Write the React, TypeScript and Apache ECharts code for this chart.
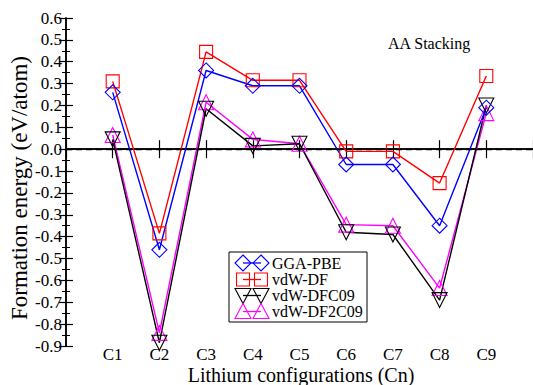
import React, { useEffect, useRef } from "react";
import * as echarts from "echarts";

const categories = ["C1", "C2", "C3", "C4", "C5", "C6", "C7", "C8", "C9"];
const ggaPbe = [0.26, -0.46, 0.36, 0.29, 0.29, -0.07, -0.07, -0.35, 0.19];
const vdwDf = [0.31, -0.385, 0.445, 0.315, 0.315, -0.01, -0.01, -0.155, 0.335];
const vdwDfc09 = [0.045, -0.885, 0.185, 0.015, 0.025, -0.38, -0.39, -0.69, 0.2];
const vdwDf2c09 = [0.065, -0.84, 0.215, 0.045, 0.025, -0.345, -0.35, -0.635, 0.165];
const seriesNames = ["GGA-PBE", "vdW-DF", "vdW-DFC09", "vdW-DF2C09"];
const xTitle = "Lithium configurations (Cn)";
const yTitle = "Formation energy (eV/atom)";
const panelTitle = "AA Stacking";

const FONT = "Liberation Serif";

function legendGraphic() {
  const x0 = 229, y0 = 252, w = 138, h = 70;
  const rows = [263, 279.5, 295.5, 311.5];
  const colors = ["#0000ff", "#ff0000", "#000000", "#ff00ff"];
  const ax = 243, bx = 261;
  const children: any[] = [
    { type: "rect", shape: { x: x0, y: y0, width: w, height: h }, style: { fill: "#fff", stroke: "#000", lineWidth: 1 } },
  ];
  rows.forEach((cy, i) => {
    const c = colors[i];
    children.push({ type: "line", shape: { x1: ax, y1: cy, x2: bx, y2: cy }, style: { stroke: c, lineWidth: 1.3 } });
    [ax, bx].forEach((cx) => {
      let el: any;
      if (i === 0) {
        el = { type: "polygon", shape: { points: [[cx, cy - 8], [cx + 8, cy], [cx, cy + 8], [cx - 8, cy]] } };
      } else if (i === 1) {
        el = { type: "rect", shape: { x: cx - 6.5, y: cy - 6.5, width: 13, height: 13 } };
      } else if (i === 2) {
        el = { type: "polygon", shape: { points: [[cx - 8, cy - 7], [cx + 8, cy - 7], [cx, cy + 8]] } };
      } else {
        el = { type: "polygon", shape: { points: [[cx - 8, cy + 7], [cx + 8, cy + 7], [cx, cy - 8]] } };
      }
      el.style = { fill: "none", stroke: c, lineWidth: 1.1 };
      children.push(el);
    });
    children.push({
      type: "text",
      x: 272,
      y: cy,
      style: { text: seriesNames[i], fontFamily: FONT, fontSize: 16, fill: "#000", textVerticalAlign: "middle", textAlign: "left" },
    });
  });
  return { type: "group", children };
}

export default function App() {
  const ref = useRef<HTMLDivElement>(null);
  useEffect(() => {
    document.body.style.margin = "0";
    const chart = echarts.init(ref.current!, null, { renderer: "svg" });
    const mk = (name: string, vals: number[], color: string, symbol: string, size: number, rotate = 0, extra: any = {}) => ({
      name,
      type: "line",
      data: vals.map((v, i) => [i + 1, v]),
      symbol,
      symbolSize: size,
      symbolRotate: rotate,
      lineStyle: { color, width: 1.4 },
      itemStyle: { color: "rgba(0,0,0,0)", borderColor: color, borderWidth: 1.1 },
      ...extra,
    });
    const axisLabelStyle = { fontFamily: FONT, fontSize: 17, color: "#000", fontWeight: "normal" };
    chart.setOption({
      animation: false,
      textStyle: { fontFamily: FONT, fontWeight: "normal" },
      grid: { left: 66, top: 18, width: 467, bottom: 39, containLabel: false, outerBoundsMode: "none" },
      xAxis: [
        {
          type: "value",
          min: 0,
          max: 10,
          interval: 1,
          position: "bottom",
          axisLine: { show: true, lineStyle: { color: "#000", width: 1.5 } },
          axisTick: { show: true, inside: true, length: 9, lineStyle: { color: "#000", width: 1.2 } },
          axisLabel: {
            ...axisLabelStyle,
            margin: 0,
            lineHeight: 17,
            formatter: (v: number) => (v >= 1 && v <= categories.length ? categories[v - 1] : ""),
          },
          splitLine: { show: false },
        },
        {
          type: "value",
          min: 0,
          max: 10,
          interval: 1,
          position: "top",
          axisLine: { show: true, lineStyle: { color: "#000", width: 1.5 } },
          axisTick: { show: true, inside: true, length: 9, lineStyle: { color: "#000", width: 1.2 } },
          axisLabel: { show: false },
          splitLine: { show: false },
        },
      ],
      yAxis: [
        {
          type: "value",
          min: -0.9,
          max: 0.6,
          interval: 0.1,
          position: "left",
          axisLine: { show: true, lineStyle: { color: "#000", width: 1.5 } },
          axisTick: { show: true, inside: true, length: 7, lineStyle: { color: "#000", width: 1.2 } },
          minorTick: { show: true, splitNumber: 2, length: 4, lineStyle: { color: "#000", width: 1 } },
          axisLabel: { ...axisLabelStyle, margin: 4, formatter: (v: number) => v.toFixed(1) },
          splitLine: { show: false },
        },
        {
          type: "value",
          min: -0.9,
          max: 0.6,
          interval: 0.1,
          position: "right",
          axisLine: { show: true, lineStyle: { color: "#000", width: 1.5 } },
          axisTick: { show: true, inside: true, length: 7, lineStyle: { color: "#000", width: 1.2 } },
          minorTick: { show: true, splitNumber: 2, length: 4, lineStyle: { color: "#000", width: 1 } },
          axisLabel: { show: false },
          splitLine: { show: false },
        },
      ],
      series: [
        mk(seriesNames[3], vdwDf2c09, "#ff00ff", "triangle", 15),
        mk(seriesNames[2], vdwDfc09, "#000000", "triangle", 15, 180),
        mk(seriesNames[1], vdwDf, "#ff0000", "rect", 13),
        mk(seriesNames[0], ggaPbe, "#0000ff", "diamond", 15, 0, {
          markLine: {
            silent: true,
            symbol: ["none", "none"],
            label: { show: false },
            lineStyle: { color: "#000", type: [6, 4], width: 1.3 },
            data: [{ yAxis: 0 }],
          },
        }),
      ],
      graphic: [
        {
          type: "text",
          x: 388,
          y: 43,
          style: { text: panelTitle, fontFamily: FONT, fontSize: 16, fill: "#000", textVerticalAlign: "middle" },
        },
        {
          type: "text",
          x: 301,
          y: 375,
          style: { text: xTitle, fontFamily: FONT, fontSize: 20, lineHeight: 20, fill: "#000", textAlign: "center", textVerticalAlign: "middle" },
        },
        {
          type: "text",
          x: 19,
          y: 188,
          rotation: Math.PI / 2,
          style: { text: yTitle, fontFamily: FONT, fontSize: 23, fill: "#000", textAlign: "center", textVerticalAlign: "middle" },
        },
        legendGraphic(),
      ],
    });
    return () => chart.dispose();
  }, []);
  return <div ref={ref} style={{ width: 533, height: 385 }} />;
}
